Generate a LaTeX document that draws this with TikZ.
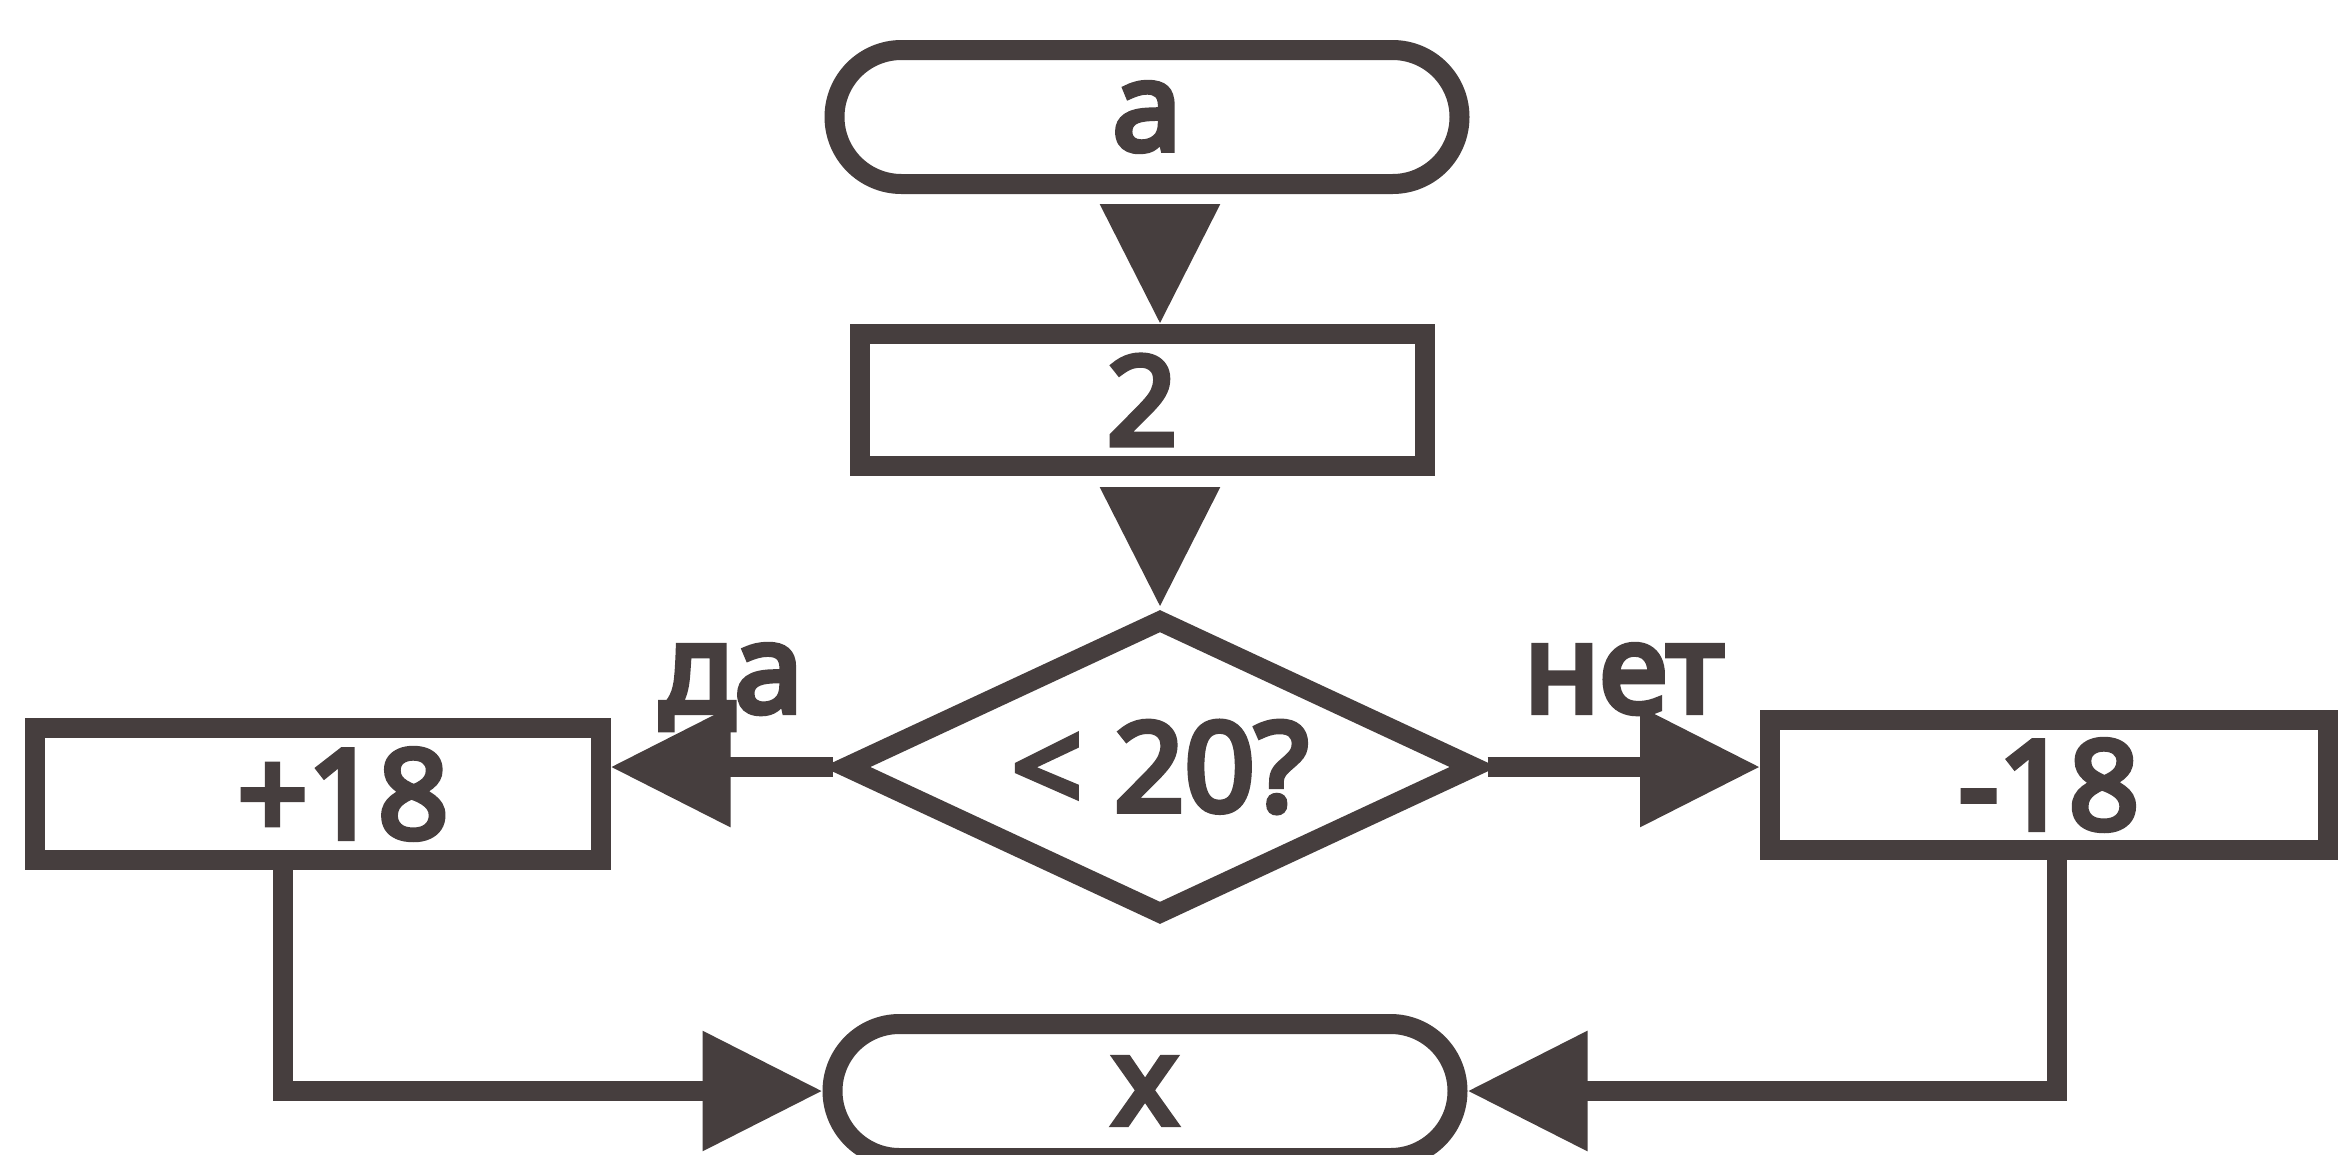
\documentclass[tikz,border=0pt]{standalone}
\usepackage{fontspec}
\newfontfamily\flowfont{Noto Sans}[FakeBold=5]
\usepackage{tikz}
\usetikzlibrary{calc}
\usetikzlibrary{positioning}
\usetikzlibrary{shapes.geometric}
\usetikzlibrary{arrows.meta}
\definecolor{ink}{RGB}{70,62,62}

\begin{document}
\begin{tikzpicture}[every node/.style={font=\flowfont\fontsize{35}{40}\selectfont,text=ink},
block/.style={draw=ink,line width=2mm,minimum width=5.65cm,minimum height=1.32cm,inner sep=0pt},
term/.style={block,minimum width=6.25cm,minimum height=1.34cm,rounded corners=6.7mm},
decision/.style={draw=ink,line width=2mm,diamond,aspect=2.1,minimum width=6.35cm,minimum height=3.0cm,inner sep=0pt},
flow/.style={draw=ink,line width=2mm,-{Triangle[length=12mm,width=11.5mm]}}]
\useasboundingbox[fill=white] (0,0) rectangle (23.4,-11.54);

\node[term] (start) at (11.47,-1.17) {a};
\node[block] (two) at (11.42,-4.0) {2};
\node[decision] (dia) at (11.6,-7.67) {< 20?};
\node[block] (plus) at (3.18,-7.94) {\hspace*{5mm}+18};
\node[block,minimum width=5.58cm,minimum height=1.3cm] (minus) at (20.49,-7.85) {-18};
\node[term] (end) at (11.45,-10.91) {x};

\draw[flow,shorten <=1.5mm] (start.south -| dia.north) -- (two.north -| dia.north);
\draw[flow,shorten <=1.2mm] (two.south -| dia.north) -- (dia.north);
\draw[flow] (dia.west) -- (dia.west -| plus.east);
\draw[flow] (dia.east) -- (dia.east -| minus.west);
\draw[flow] ([xshift=-3.5mm]plus.south) |- (end.west);
\draw[flow] ([xshift=0.8mm]minus.south) |- (end.east);

\coordinate (l) at ($(dia.west)!0.5!(dia.west -| plus.east)$);
\coordinate (r) at ($(dia.east)!0.5!(dia.east -| minus.west)$);
\node[above=5.5mm of l,anchor=base,xshift=1mm] (yes) {да};
\node[above=5.5mm of r,anchor=base] (no) {нет};
\end{tikzpicture}
\end{document}
